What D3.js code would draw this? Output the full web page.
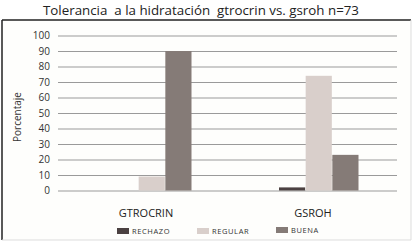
<!DOCTYPE html>
<html>
<head>
<meta charset="utf-8">
<script src="https://cdn.jsdelivr.net/npm/d3@7"></script>
<style>
  body { margin: 0; background: #ffffff; }
  svg { display: block; font-family: "Open Sans", "Noto Sans", sans-serif; }
</style>
</head>
<body>
<svg width="413" height="242"></svg>
<script>
var mySVG = d3.select("svg");

// categorias y series
var grupos = ["GTROCRIN", "GSROH"];
var series = ["RECHAZO", "REGULAR", "BUENA"];
var rechazo = [0, 2];
var regular = [9, 74];
var buena = [90, 23];
var yTicks = [0, 10, 20, 30, 40, 50, 60, 70, 80, 90, 100];
var colores = ["#4b4141", "#d9cfcb", "#857b77"];

var valores = [rechazo, regular, buena];
var data = grupos.map(function(g, i){
  return { grupo: g, vals: series.map(function(s, j){ return { serie: s, v: valores[j][i] }; }) };
});

// marco
mySVG.append("rect").attr("x", 2).attr("y", 20).attr("width", 409).attr("height", 220)
  .attr("fill", "#fefefc").attr("stroke", "none");
mySVG.append("line").attr("x1", 2).attr("y1", 20).attr("x2", 411).attr("y2", 20).attr("stroke", "#222").attr("stroke-width", 1.5);
mySVG.append("line").attr("x1", 2).attr("y1", 20).attr("x2", 2).attr("y2", 240).attr("stroke", "#222").attr("stroke-width", 1.5);
mySVG.append("line").attr("x1", 411).attr("y1", 20).attr("x2", 411).attr("y2", 240).attr("stroke", "#ddd");
mySVG.append("line").attr("x1", 2).attr("y1", 240).attr("x2", 411).attr("y2", 240).attr("stroke", "#ddd");

// titulo
mySVG.append("text").attr("x", 201).attr("y", 15).attr("text-anchor", "middle")
  .style("white-space", "pre").attr("font-size", 13.5).attr("fill", "#222")
  .attr("textLength", 316).attr("lengthAdjust", "spacingAndGlyphs")
  .text("Tolerancia  a la hidratación  gtrocrin vs. gsroh n=73");

var y = d3.scaleLinear().domain([0, 100]).range([190.5, 35.5]);
var x0 = d3.scaleBand().domain(grupos).range([68.5, 402.5]);
var x1 = d3.scaleBand().domain(series).range([0, 80]);

// lineas de grilla
var grid = d3.axisLeft(y).tickValues(yTicks).tickSize(-339).tickPadding(8);
var gy = mySVG.append("g").attr("transform", "translate(58,0)").call(grid);
gy.select(".domain").remove();
gy.selectAll(".tick line").attr("stroke", "#9a9a9a").attr("stroke-width", 1.2);
gy.selectAll(".tick text").attr("font-size", 10).attr("fill", "#333")
  .attr("font-family", "'Open Sans', sans-serif");

// barras
var g = mySVG.selectAll(".grupo").data(data).enter().append("g")
  .attr("transform", function(d){ return "translate(" + (x0(d.grupo) + x0.bandwidth()/2 - 40) + ",0)"; });
g.selectAll("rect").data(function(d){ return d.vals; }).enter().append("rect")
  .attr("x", function(d){ return x1(d.serie); })
  .attr("width", x1.bandwidth() - 0.5)
  .attr("y", function(d){ return y(d.v); })
  .attr("height", function(d){ return y(0) - y(d.v); })
  .attr("fill", function(d, i){ return colores[i]; });

// etiquetas de categoria
mySVG.selectAll(".cat").data(grupos).enter().append("text")
  .attr("x", function(d){ return x0(d) + x0.bandwidth()/2 - 6; })
  .attr("y", 217).attr("text-anchor", "middle").attr("font-size", 11).attr("fill", "#222")
  .text(function(d){ return d; });

// eje y titulo
mySVG.append("text").attr("transform", "translate(21,117) rotate(-90)")
  .attr("text-anchor", "middle").attr("font-size", 10).attr("fill", "#333")
  .text("Porcentaje");

// leyenda
var legX = [117, 197, 276];
var leg = mySVG.selectAll(".leg").data(series).enter().append("g")
  .attr("transform", function(d, i){ return "translate(" + legX[i] + "," + (i == 2 ? 227 : 228) + ")"; });
leg.append("rect").attr("width", 12).attr("height", 6).attr("fill", function(d, i){ return colores[i]; });
leg.append("text").attr("x", 15).attr("y", 6).attr("font-size", 7.5).attr("letter-spacing", 0.6)
  .attr("fill", "#333").text(function(d){ return d; });
</script>
</body>
</html>
